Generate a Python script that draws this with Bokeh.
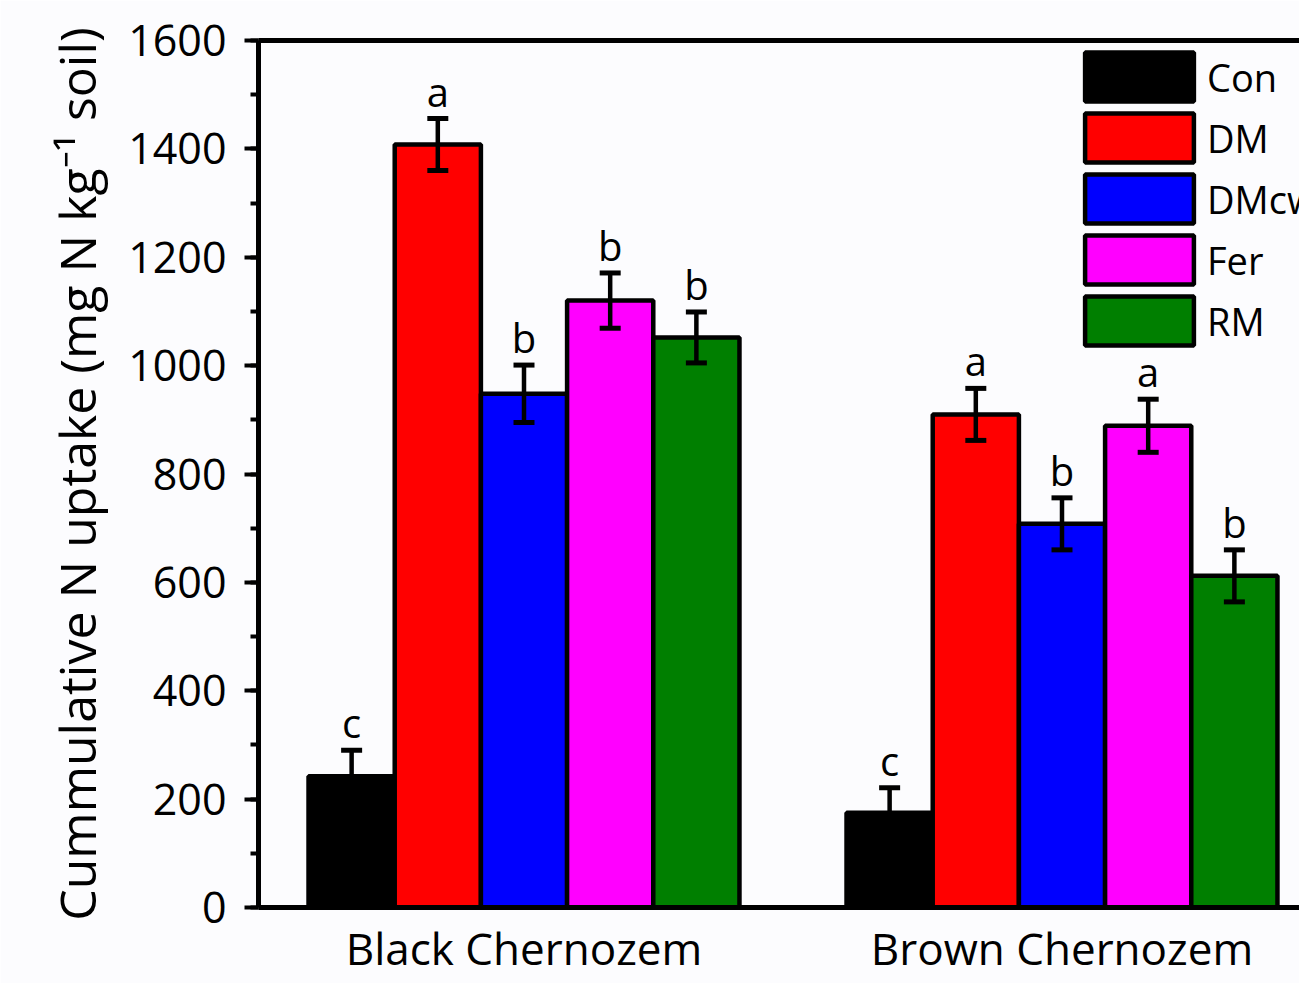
from bokeh.plotting import figure
from bokeh.models import (ColumnDataSource, Whisker, TeeHead, Legend, LegendItem,
                          SingleIntervalTicker, LinearAxis, FixedTicker, Range1d)
from bokeh.core.properties import value
from bokeh.embed import file_html
from bokeh.resources import INLINE

# ---- data ----
soils = ["Black Chernozem", "Brown Chernozem"]
treatments = ["Con", "DM", "DMcw", "Fer", "RM"]
colors = ["#000000", "#FF0000", "#0000FF", "#FF00FF", "#007F00"]
uptake = {
    "Con":  [242, 175],
    "DM":   [1408, 910],
    "DMcw": [948, 708],
    "Fer":  [1120, 889],
    "RM":   [1052, 612],
}
errors = {
    "Con":  [48, 46],
    "DM":   [48, 48],
    "DMcw": [53, 48],
    "Fer":  [51, 49],
    "RM":   [47, 48],
}
letters = {
    "Con":  ["c", "c"],
    "DM":   ["a", "a"],
    "DMcw": ["b", "b"],
    "Fer":  ["b", "a"],
    "RM":   ["b", "b"],
}

BG = "#FCFCFE"
bar_w = 0.1602
x_start = 0.50651
x_end = x_start + 1041 / 538.0

p = figure(width=1299, height=983, output_backend="svg", toolbar_location=None,
           x_range=Range1d(x_start, x_end), y_range=Range1d(0, 1600),
           min_border_left=258, min_border_right=0, min_border_top=40, min_border_bottom=76,
           background_fill_color=BG, border_fill_color=BG)
p.grid.visible = False
p.outline_line_color = None

legend_items = []
for k, t in enumerate(treatments):
    xs = [g + 1 + (k - 2) * bar_w for g in range(len(soils))]
    vals = uptake[t]
    errs = errors[t]
    src = ColumnDataSource(dict(
        x=xs, top=vals,
        upper=[v + e for v, e in zip(vals, errs)],
        lower=[v - e for v, e in zip(vals, errs)],
        lab=letters[t],
    ))
    r = p.vbar(x="x", top="top", width=bar_w, bottom=0, source=src,
               fill_color=colors[k], line_color="black", line_width=4.5)
    legend_items.append(LegendItem(label=t, renderers=[r]))
    w = Whisker(source=src, base="x", upper="upper", lower="lower",
                line_color="black", line_width=4.5, level="annotation",
                upper_head=TeeHead(size=21, line_width=5, line_color="black"),
                lower_head=TeeHead(size=21, line_width=5, line_color="black"))
    p.add_layout(w)
    p.text(x="x", y="upper", text="lab", source=src, text_align="center",
           text_baseline="bottom", y_offset=0,
           text_font=value("Open Sans"), text_font_size="40px", text_color="black")

# y axis
ya = p.yaxis[0]
ya.ticker = SingleIntervalTicker(interval=200, num_minor_ticks=2)
ya.axis_line_width = 5
ya.major_tick_line_width = 4
ya.minor_tick_line_width = 4
ya.major_tick_out = 14
ya.major_tick_in = 0
ya.minor_tick_out = 8
ya.minor_tick_in = 0
ya.major_label_text_font = "Open Sans"
ya.major_label_text_font_size = "43px"
ya.major_label_text_color = "black"
ya.major_label_standoff = 18
ya.axis_label = "Cummulative N uptake (mg N kg\u207b\u00b9 soil)"
ya.axis_label_text_font = "Open Sans"
ya.axis_label_text_font_size = "50px"
ya.axis_label_text_font_style = "normal"
ya.axis_label_text_color = "black"
ya.axis_label_standoff = 14

# x axis
xa = p.xaxis[0]
xa.ticker = FixedTicker(ticks=[1, 2])
xa.major_label_overrides = {1: soils[0], 2: soils[1]}
xa.axis_line_width = 5
xa.major_tick_line_color = None
xa.minor_tick_line_color = None
xa.major_tick_out = 0
xa.major_tick_in = 0
xa.minor_tick_out = 0
xa.minor_tick_in = 0
xa.major_label_text_font = "Open Sans"
xa.major_label_text_font_size = "44px"
xa.major_label_text_color = "black"
xa.major_label_standoff = 10

# top frame line
top = LinearAxis(ticker=FixedTicker(ticks=[]), axis_line_width=5,
                 major_tick_line_color=None, minor_tick_line_color=None,
                 major_tick_out=0, minor_tick_out=0,
                 major_label_text_font_size="0px")
p.add_layout(top, "above")

legend = Legend(items=legend_items, location=(813, 556), orientation="vertical",
                glyph_width=136, glyph_height=61, spacing=0, padding=0, margin=0,
                label_standoff=0, label_text_font="Open Sans", label_text_font_size="38px",
                label_text_color="black", border_line_color=None, background_fill_alpha=0)
p.add_layout(legend, "center")

open("out.html", "w").write(file_html(p, INLINE))
